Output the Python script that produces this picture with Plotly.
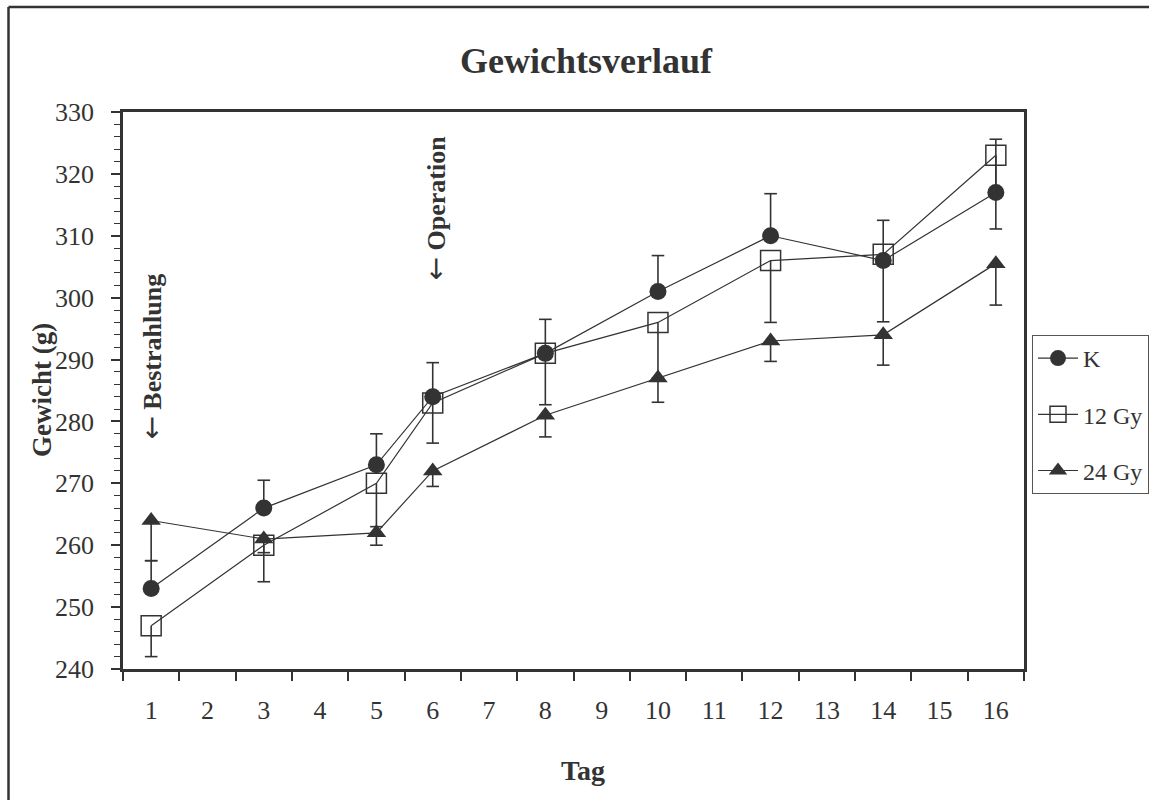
import plotly.graph_objects as go

# ---------------- data ----------------
all_days = [str(d) for d in range(1, 17)]
measure_days = ["1", "3", "5", "6", "8", "10", "12", "14", "16"]

k_vals = [253, 266, 273, 284, 291, 301, 310, 306, 317]
k_err_plus = [4.5, 4.5, 5.0, 5.5, 5.5, 5.8, 6.8, 6.5, 8.6]

gy12_vals = [247, 260, 270, 283, 291, 296, 306, 307, 323]
gy12_err_minus = [5.0, 5.9, 7.0, 6.5, 8.3, 9.0, 10.0, 10.9, 11.9]

gy24_vals = [264, 261, 262, 272, 281, 287, 293, 294, 305.5]
gy24_err_minus = [6.5, 2.2, 2.0, 2.5, 3.5, 3.9, 3.3, 4.9, 6.7]

series_names = ["K", "12 Gy", "24 Gy"]
title_text = "Gewichtsverlauf"
y_title = "Gewicht (g)"
x_title = "Tag"
events = [("Bestrahlung", 0, 290.5), ("Operation", 5.05, 314.5)]

# ---------------- layout helpers ----------------
W, H = 1149, 800
ML, MR, MT, MB = 123, 125, 112, 131
L, R, T, B = ML, W - MR, MT, H - MB


def px(x):
    return (x - L) / (R - L)


def py(y):
    return (B - y) / (B - T)


ink = "#333333"
serif = "Liberation Serif, Times New Roman, serif"
arrow = "<span style='font-family:DejaVu Sans;font-weight:normal;font-size:28px'>←</span>"

fig = go.Figure()

specs = [
    (series_names[0], k_vals, k_err_plus, [0] * len(k_vals), "circle", 17, 0),
    (series_names[1], gy12_vals, [0] * len(gy12_vals), gy12_err_minus, "square-open", 20, 1.5),
    (series_names[2], gy24_vals, [0] * len(gy24_vals), gy24_err_minus, "triangle-up", 17, 0),
]

for name, vals, plus, minus, sym, size, lw in specs:
    fig.add_trace(go.Scatter(
        x=measure_days, y=vals, name=name, mode="lines+markers",
        legendgroup=name,
        line=dict(color=ink, width=1.2),
        marker=dict(symbol=sym, size=size, color=ink, line=dict(color=ink, width=lw)),
        error_y=dict(type="data", symmetric=False, array=plus, arrayminus=minus,
                     width=0, thickness=1.6, color=ink),
    ))

# error-bar caps
for name, vals, plus, minus, sym, size, lw in specs:
    ends = [v + p if p > 0 else v - m for v, p, m in zip(vals, plus, minus)]
    fig.add_trace(go.Scatter(
        x=measure_days, y=ends, mode="markers", showlegend=False, hoverinfo="skip",
        marker=dict(symbol="line-ew", size=9, color=ink, line=dict(color=ink, width=1.6)),
    ))

annotations = [
    dict(text="<b>" + y_title + "</b>", xref="paper", yref="paper", x=px(42), y=py(390),
         textangle=-90, showarrow=False, font=dict(family=serif, size=27, color=ink),
         xanchor="center", yanchor="middle"),
    dict(text="<b>" + x_title + "</b>", xref="paper", yref="paper", x=px(583), y=py(770),
         showarrow=False, font=dict(family=serif, size=28, color=ink),
         xanchor="center", yanchor="middle"),
]
for txt, xi, yv in events:
    annotations.append(dict(text=arrow + " <b>" + txt + "</b>", xref="x", yref="y", x=xi, y=yv,
                            textangle=-90, showarrow=False,
                            font=dict(family=serif, size=26, color=ink),
                            xanchor="center", yanchor="middle"))

frame = [
    dict(type="line", xref="paper", yref="paper", x0=px(8.5), x1=px(8.5), y0=py(7), y1=py(820),
         line=dict(color=ink, width=2.5), layer="below"),
    dict(type="line", xref="paper", yref="paper", x0=px(8.5), x1=px(1170), y0=py(7), y1=py(7),
         line=dict(color=ink, width=2.5), layer="below"),
]

fig.update_layout(
    width=W, height=H,
    margin=dict(l=ML, r=MR, t=MT, b=MB, autoexpand=False),
    paper_bgcolor="white", plot_bgcolor="white",
    font=dict(family=serif, color=ink),
    title=dict(text="<b>" + title_text + "</b>", xref="container", yref="container",
               x=586 / W, y=1 - 60 / H, xanchor="center", yanchor="middle",
               font=dict(family=serif, size=36, color=ink)),
    showlegend=True,
    legend=dict(x=px(1032), y=py(335), xanchor="left", yanchor="top",
                bordercolor="#555555", borderwidth=1, bgcolor="white",
                font=dict(family=serif, size=24, color=ink),
                tracegroupgap=22, itemwidth=40),
    annotations=annotations,
    shapes=frame,
    xaxis=dict(type="category", categoryorder="array", categoryarray=all_days,
               range=[-0.5, 15.5], tickson="boundaries", ticks="outside", ticklen=9,
               tickwidth=1.5, tickcolor=ink, showline=True, linecolor=ink, linewidth=2.5,
               mirror=True, showgrid=False, zeroline=False,
               tickfont=dict(family=serif, size=26, color=ink), ticklabelstandoff=16),
    yaxis=dict(range=[240, 330], tick0=240, dtick=10, ticks="outside", ticklen=9,
               tickwidth=1.5, tickcolor=ink, showline=True, linecolor=ink, linewidth=2.5,
               mirror=True, showgrid=False, zeroline=False,
               tickfont=dict(family=serif, size=26, color=ink), ticklabelstandoff=12,
               minor=dict(ticks="outside", dtick=2, ticklen=6, tickwidth=1.2,
                          tickcolor=ink, showgrid=False)),
)

fig.write_html("out.html",
               post_script="document.body.style.margin='0';document.body.style.overflow='hidden';")
